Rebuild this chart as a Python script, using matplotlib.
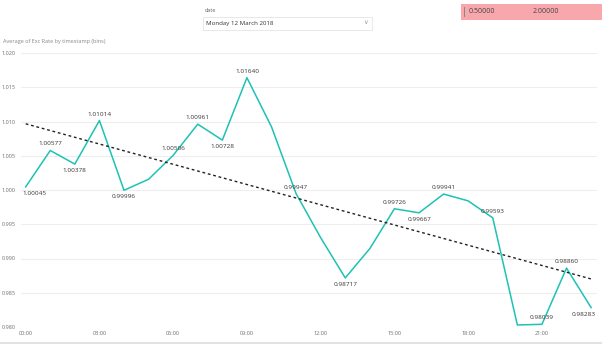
import numpy as np
import matplotlib
matplotlib.use('Agg')
import matplotlib.pyplot as plt
from matplotlib.patches import Rectangle

plt.rcParams['font.family'] = ['Open Sans', 'DejaVu Sans']

# dati (media oraria)
hours = list(range(24))
exc_rate = [1.00045, 1.00577, 1.00378, 1.01014, 0.99996, 1.00157, 1.00506, 1.00961,
            1.00728, 1.01640, 1.00922, 0.99947, 0.99303, 0.98717, 0.99145, 0.99726,
            0.99667, 0.99941, 0.99841, 0.99593, 0.98030, 0.98039, 0.98860, 0.98283]
# posizione etichette: 1 sopra, -1 sotto, 0 nessuna
label_pos = [-1, 1, -1, 1, -1, 0, 1, 1, -1, 1, 0, 1, 0, -1, 0, 1,
             -1, 1, 0, 1, 0, 1, 1, -1]
xtick_hours = [0, 3, 6, 9, 12, 15, 18, 21]
xtick_labels = ['00:00', '03:00', '06:00', '09:00', '12:00', '15:00', '18:00', '21:00']
yticks = [0.980, 0.985, 0.990, 0.995, 1.000, 1.005, 1.010, 1.015, 1.020]

W, H = 602, 344
fig = plt.figure(figsize=(W / 100, H / 100), dpi=100)

ax = fig.add_axes([21 / W, 17 / H, (597 - 21) / W, (291 - 17) / H])
ax.set_xlim(-0.19, 23.24)
ax.set_ylim(0.980, 1.020)

for s in ax.spines.values():
    s.set_visible(False)
ax.set_yticks(yticks)
ax.set_yticklabels(['%.3f' % v for v in yticks])
ax.set_xticks(xtick_hours)
ax.set_xticklabels(xtick_labels)
ax.tick_params(length=0, labelsize=4, colors='#6E6E6E', pad=3)
ax.tick_params(axis='y', pad=4)
ax.grid(axis='y', color='#EEEEEE', lw=0.8)
ax.set_axisbelow(True)

# linea dati
ax.plot(hours, exc_rate, color='#1EC2B4', lw=1.1, zorder=3)

# linea di tendenza (regressione lineare)
k, q = np.polyfit(hours, exc_rate, 1)
tx = np.array([hours[0], hours[-1]])
ax.plot(tx, k * tx + q, color='#222222', lw=1.0, ls=(0, (2, 2)), zorder=4)

# etichette dati
for i, (h, v) in enumerate(zip(hours, exc_rate)):
    p = label_pos[i]
    if p == 0:
        continue
    dx = 0
    if i == 0:
        dx = 6.5
    if i == len(hours) - 1:
        dx = -5.5
    ax.annotate('%.5f' % v, (h, v), xytext=(dx, 4.7 * p), textcoords='offset points',
                ha='center', va='center', fontsize=4.6, color='#333333', zorder=5)

# titolo asse
fig.text(3 / W, 1 - 42 / H, 'Average of Exc Rate by timestamp (bins)', fontsize=4,
         color='#888888', va='center', ha='left')

# filtro data
fig.text(205 / W, 1 - 10 / H, 'date', fontsize=4, color='#666666', va='center')
fig.patches.append(Rectangle((203 / W, 1 - 30 / H), (372 - 203) / W, 13 / H,
                             transform=fig.transFigure, fc='white', ec='#E4E4E4', lw=0.6))
fig.text(206 / W, 1 - 23.5 / H, 'Monday 12 March 2018', fontsize=4.4, color='#333333',
         va='center')
fig.text(366 / W, 1 - 23 / H, '\u2228', fontsize=4.5, color='#999999', va='center',
         ha='center', family='DejaVu Sans')

# riquadro rosa
fig.patches.append(Rectangle((461 / W, 1 - 19.5 / H), (602 - 461) / W, 15.5 / H,
                             transform=fig.transFigure, fc='#F8A8AC', ec='none'))
fig.patches.append(Rectangle((463.5 / W, 1 - 17 / H), 1.2 / W, 10 / H,
                             transform=fig.transFigure, fc='#888888', ec='none'))
fig.text(469 / W, 1 - 11.5 / H, '0.50000', fontsize=5, color='#444444', va='center')
fig.text(533 / W, 1 - 11.5 / H, '2.00000', fontsize=5, color='#444444', va='center')

# barra inferiore
fig.patches.append(Rectangle((0, 0), 1, 2.5 / H, transform=fig.transFigure,
                             fc='#E2E2E2', ec='none'))

fig.savefig('out.png', dpi=100)
